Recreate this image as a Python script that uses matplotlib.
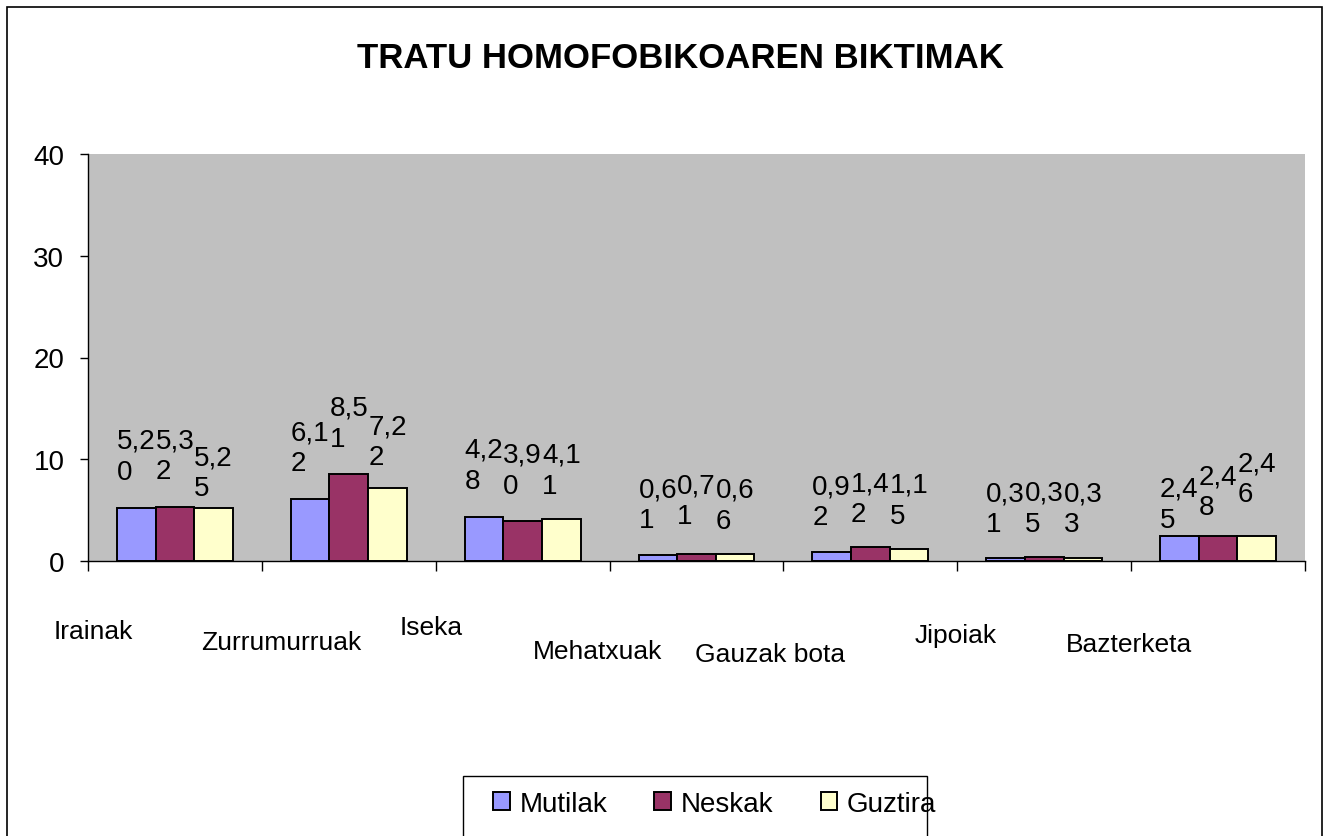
import matplotlib
matplotlib.use("Agg")
import matplotlib.pyplot as plt
from matplotlib.patches import Rectangle, Patch

plt.rcParams['font.family'] = ['Liberation Sans', 'DejaVu Sans']

categories = ["Irainak", "Zurrumurruak", "Iseka", "Mehatxuak", "Gauzak bota", "Jipoiak", "Bazterketa"]
series_names = ["Mutilak", "Neskak", "Guztira"]
mutilak = [5.20, 6.12, 4.28, 0.61, 0.92, 0.31, 2.45]
neskak = [5.32, 8.51, 3.90, 0.71, 1.42, 0.35, 2.48]
guztira = [5.25, 7.22, 4.11, 0.66, 1.15, 0.33, 2.46]
y_ticks = [0, 10, 20, 30, 40]

colors = ["#9999FF", "#993366", "#FFFFCC"]

# label offsets in pixels above each bar top (Excel staggers them)
label_dy = [
    [52, 51, 52, 50, 50, 49, 32],
    [51, 51, 51, 53, 48, 49, 44],
    [35, 46, 49, 49, 49, 49, 57],
]
# category label offsets from category centre (pixels)
cat_dx = [-82, -68, -91, -99, -100, -89, -89]
cat_dy = [-70, -81, -66, -90, -93, -74, -83]

W, H = 1327, 837
fig = plt.figure(figsize=(W / 100, H / 100), dpi=100)
ax = fig.add_axes([88 / W, 1 - 562 / H, (1305 - 88) / W, (562 - 155) / H])
ax.set_facecolor("#C0C0C0")

n = len(categories)
w = 1 / 4.5
series = [mutilak, neskak, guztira]
for j, vals in enumerate(series):
    xs = [i + 0.5 + (j - 1) * w for i in range(n)]
    ax.bar(xs, vals, width=w, color=colors[j], edgecolor="black", linewidth=1.4, zorder=3)
    for i, (x, v) in enumerate(zip(xs, vals)):
        s = f"{v:.2f}".replace(".", ",")
        ax.annotate(s[:3] + "\n" + s[3:], xy=(x, v), xytext=(0, label_dy[j][i]),
                    textcoords="offset pixels", ha="center", va="center",
                    multialignment="left", fontsize=20, linespacing=1.25, zorder=4)

ax.set_xlim(0, n)
ax.set_ylim(0, 40)
ax.set_yticks(y_ticks)
ax.set_yticklabels([str(t) for t in y_ticks], fontsize=20)
ax.set_xticks(range(n + 1))
ax.set_xticklabels([])
ax.tick_params(axis="y", direction="out", length=6, width=1, pad=11)
ax.tick_params(axis="x", direction="out", length=7, width=1)
for s in ["top", "right"]:
    ax.spines[s].set_visible(False)
for s in ["left", "bottom"]:
    ax.spines[s].set_linewidth(1)
    ax.spines[s].set_color("black")

for i, name in enumerate(categories):
    ax.annotate(name, xy=(i + 0.5, 0), xycoords=("data", "axes fraction"),
                xytext=(cat_dx[i], cat_dy[i]), textcoords="offset pixels",
                ha="center", va="center", fontsize=19, annotation_clip=False)

fig.text(680 / W, 1 - 58 / H, "TRATU HOMOFOBIKOAREN BIKTIMAK", ha="center", va="center",
         fontsize=25, fontweight="bold")

# outer chart border and legend box (both run past the bottom edge)
fig.add_artist(Rectangle((7 / W, -0.05), (1322 - 7) / W, 1 - 8 / H + 0.05,
                         transform=fig.transFigure, fill=False, ec="black", lw=1.2))
fig.add_artist(Rectangle((463 / W, -0.05), (927 - 463) / W, 1 - 777 / H + 0.05,
                         transform=fig.transFigure, fill=False, ec="black", lw=1.0))

handles = [Patch(facecolor=c, edgecolor="black", linewidth=1.4) for c in colors]
fig.legend(handles, series_names, loc="center left", bbox_to_anchor=(493 / W, 1 - 805 / H),
           ncol=3, frameon=False, handlelength=0.6, handleheight=0.6, handletextpad=0.35,
           columnspacing=1.7, fontsize=20, borderpad=0, borderaxespad=0)

fig.savefig("out.png", dpi=100)
